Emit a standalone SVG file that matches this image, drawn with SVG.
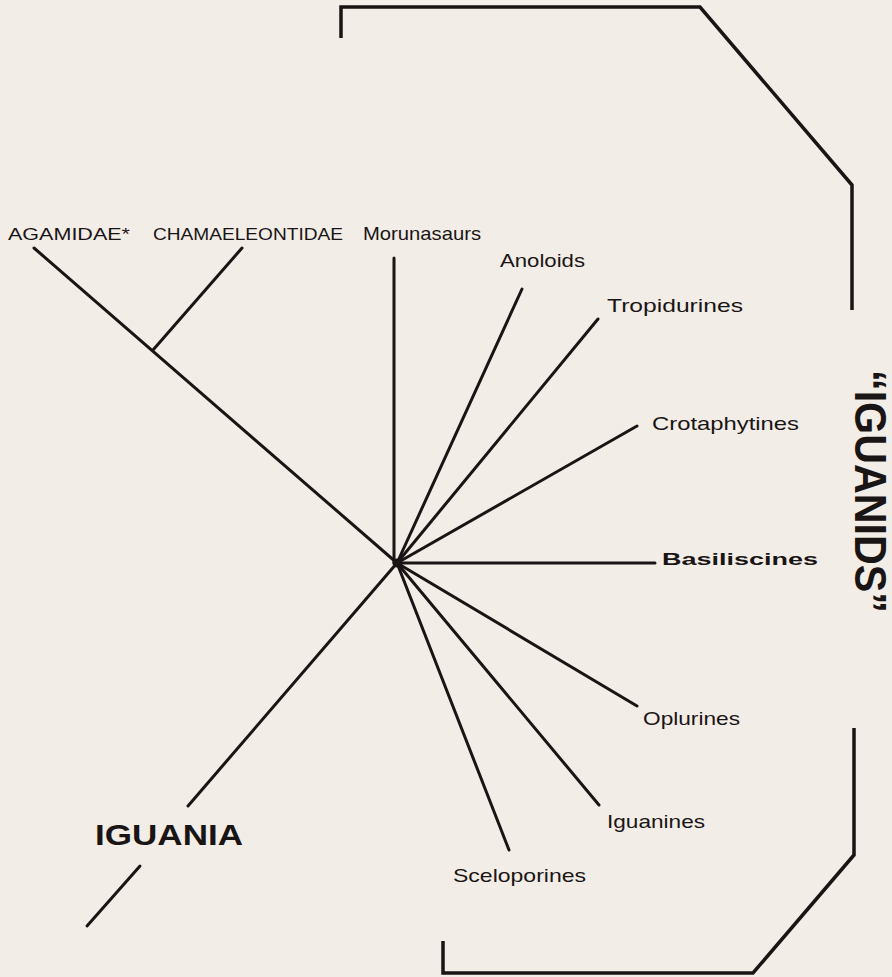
<svg xmlns="http://www.w3.org/2000/svg" width="892" height="977" viewBox="0 0 892 977">
<style>
.ln{stroke:#1a1515;stroke-width:3;fill:none;stroke-linecap:round}
.br{stroke:#1a1515;stroke-width:3.5;fill:none;stroke-linejoin:miter}
.lb{font-family:"Liberation Sans",Arial,sans-serif;font-size:19px;fill:#1a1515}
.cap{font-family:"Liberation Sans",Arial,sans-serif;font-size:17px;fill:#1a1515}
</style>
<rect width="892" height="977" fill="#f3ede7"/>
<g id="connectors">
<line class="ln" x1="34" y1="248" x2="397" y2="563"/>
<line class="ln" x1="242" y1="248" x2="153" y2="350"/>
<line class="ln" x1="394" y1="258" x2="394" y2="563"/>
<line class="ln" x1="522" y1="289" x2="397" y2="563"/>
<line class="ln" x1="598" y1="319" x2="397" y2="563"/>
<line class="ln" x1="637" y1="426" x2="397" y2="563"/>
<line class="ln" x1="655" y1="563" x2="397" y2="563"/>
<line class="ln" x1="637" y1="706" x2="397" y2="563"/>
<line class="ln" x1="599" y1="805" x2="397" y2="563"/>
<line class="ln" x1="509" y1="850" x2="397" y2="563"/>
<line class="ln" x1="188" y1="806" x2="397" y2="563"/>
<line class="ln" x1="140" y1="866" x2="87" y2="926"/>
<circle cx="397" cy="563" r="4.5" fill="#1a1515"/>
</g>
<g id="bracket-top"><polyline class="br" points="341,38 341,7 700,7 852,185 852,310"/></g>
<g id="bracket-bottom"><polyline class="br" points="854,728 854,855 753,973 443,973 443,941"/></g>
<g id="agamidae"><text class="cap" x="8" y="240" textLength="122" lengthAdjust="spacingAndGlyphs">AGAMIDAE*</text></g>
<g id="chamaeleontidae"><text class="cap" x="153" y="240" textLength="190" lengthAdjust="spacingAndGlyphs">CHAMAELEONTIDAE</text></g>
<g id="morunasaurs"><text class="lb" x="363" y="240" textLength="118" lengthAdjust="spacingAndGlyphs">Morunasaurs</text></g>
<g id="anoloids"><text class="lb" x="500" y="267" textLength="85" lengthAdjust="spacingAndGlyphs">Anoloids</text></g>
<g id="tropidurines"><text class="lb" x="607" y="312" textLength="136" lengthAdjust="spacingAndGlyphs">Tropidurines</text></g>
<g id="crotaphytines"><text class="lb" x="652" y="430" textLength="147" lengthAdjust="spacingAndGlyphs">Crotaphytines</text></g>
<g id="basiliscines"><text class="cap" x="662" y="565" textLength="156" lengthAdjust="spacingAndGlyphs" style="font-weight:bold">Basiliscines</text></g>
<g id="oplurines"><text class="lb" x="643" y="725" textLength="97" lengthAdjust="spacingAndGlyphs">Oplurines</text></g>
<g id="iguanines"><text class="lb" x="607" y="828" textLength="98" lengthAdjust="spacingAndGlyphs">Iguanines</text></g>
<g id="sceloporines"><text class="lb" x="453" y="882" textLength="133" lengthAdjust="spacingAndGlyphs">Sceloporines</text></g>
<g id="iguania"><text x="95" y="845" textLength="148" lengthAdjust="spacingAndGlyphs" style="font-family:'Liberation Sans',Arial,sans-serif;font-size:30px;font-weight:bold;fill:#1a1515">IGUANIA</text></g>
<g id="iguanids"><text transform="translate(855,370) rotate(90)" x="0" y="0" textLength="243" lengthAdjust="spacingAndGlyphs" style="font-family:'Liberation Sans',Arial,sans-serif;font-size:45px;font-weight:bold;fill:#1a1515">“IGUANIDS”</text></g>
</svg>
